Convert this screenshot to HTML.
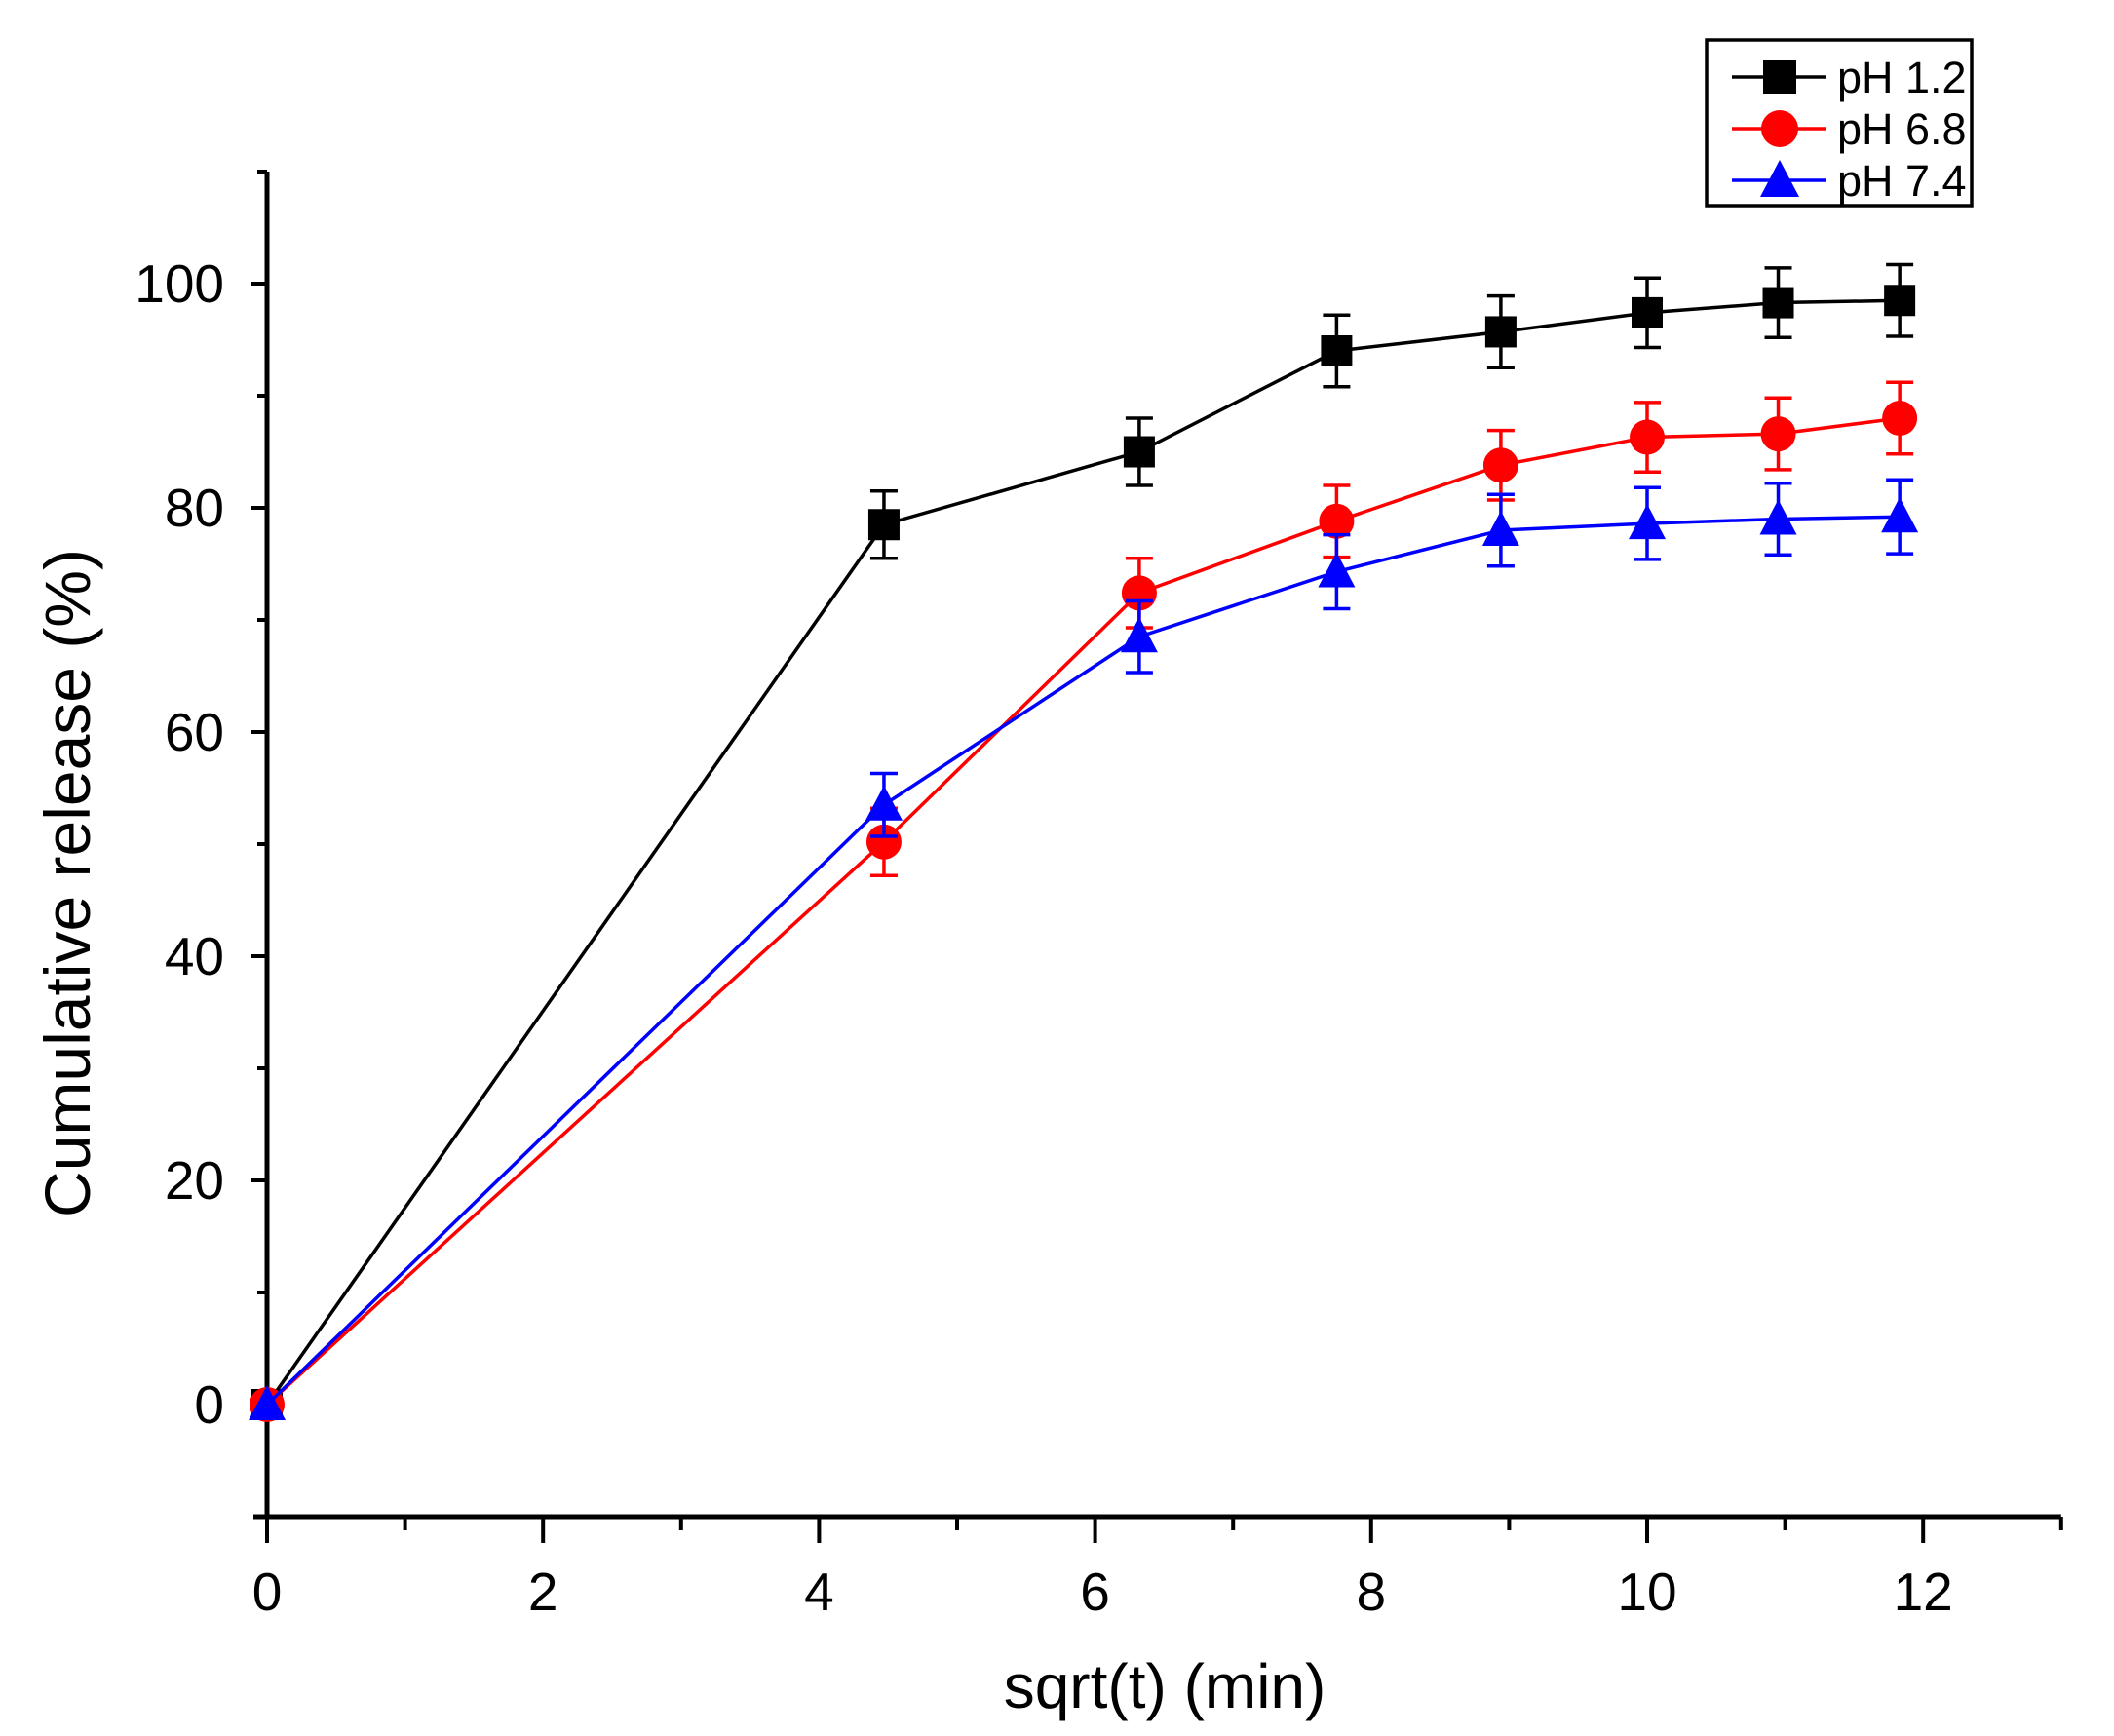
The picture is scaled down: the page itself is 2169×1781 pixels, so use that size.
<!DOCTYPE html>
<html><head><meta charset="utf-8"><style>
html,body{margin:0;padding:0;background:#fff;}
svg{display:block;font-family:"Liberation Sans",Arial,sans-serif;}
</style></head><body>
<svg id="chart" width="2169" height="1781" viewBox="0 0 2169 1781" xmlns="http://www.w3.org/2000/svg"></svg>
<script>
const xValues = [0, 4.47, 6.32, 7.75, 8.94, 10, 10.95, 11.83];
const seriesNames = ["pH 1.2", "pH 6.8", "pH 7.4"];
const ph12 = [0, 78.5, 85.0, 94.0, 95.7, 97.4, 98.3, 98.5];
const ph68 = [0, 50.2, 72.4, 78.8, 83.8, 86.3, 86.6, 88.0];
const ph74 = [0, 53.5, 68.5, 74.3, 78.0, 78.6, 79.0, 79.2];
const err12 = [0, 3.0, 3.0, 3.2, 3.2, 3.1, 3.1, 3.2];
const err68 = [0, 3.0, 3.1, 3.2, 3.1, 3.1, 3.2, 3.2];
const err74 = [0, 2.8, 3.2, 3.3, 3.2, 3.2, 3.2, 3.3];
const xTicks = [0, 2, 4, 6, 8, 10, 12];
const yTicks = [0, 20, 40, 60, 80, 100];

const NS = "http://www.w3.org/2000/svg";
const svg = document.getElementById("chart");
const X0 = 274, XPU = 141.6;
const Y0 = 1441, YPU = 11.50;
const sx = v => X0 + v * XPU;
const sy = v => Y0 - v * YPU;
function mk(tag, attrs, parent) {
  const e = document.createElementNS(NS, tag);
  for (const k in attrs) e.setAttribute(k, attrs[k]);
  (parent || svg).appendChild(e);
  return e;
}
const axes = mk("g", {});


const yAxisTop = sy(110), yAxisBot = sy(-10), xAxisRight = sx(13);
const ya = mk("line", {x1: X0, y1: yAxisTop, x2: X0, y2: yAxisBot + 2, stroke: "#000", "stroke-width": 5}, axes);


const xa = mk("line", {x1: X0 - 14, y1: yAxisBot, x2: xAxisRight, y2: yAxisBot, stroke: "#000", "stroke-width": 5}, axes);


for (let v = -10; v <= 110; v += 10) {
  const major = v % 20 === 0;
  mk("line", {x1: X0 - (major ? 16 : 10), y1: sy(v), x2: X0, y2: sy(v), stroke: "#000", "stroke-width": 4}, axes);
}
yTicks.forEach(v => {
  const t = mk("text", {x: 230, y: sy(v) + 19, "text-anchor": "end", "font-size": 55}, axes);
  t.textContent = v;
  
  
});
for (let v = 0; v <= 13; v += 1) {
  const major = v % 2 === 0;
  mk("line", {x1: sx(v), y1: yAxisBot, x2: sx(v), y2: yAxisBot + (major ? 27 : 14), stroke: "#000", "stroke-width": 4}, axes);
}
xTicks.forEach(v => {
  const t = mk("text", {x: sx(v), y: 1652, "text-anchor": "middle", "font-size": 55}, axes);
  t.textContent = v;
  
  
});
const xt = mk("text", {x: 1195, y: 1752, "text-anchor": "middle", "font-size": 64}, axes);
xt.textContent = "sqrt(t) (min)";


const yt = mk("text", {x: 0, y: 0, "text-anchor": "middle", "font-size": 66, transform: "translate(92,906) rotate(-90)"}, axes);
yt.textContent = "Cumulative release (%)";



function marker(g, type, cx, cy, color, s) {
  if (type === "square") return mk("rect", {x: cx - s, y: cy - s, width: 2 * s, height: 2 * s, fill: color}, g);
  if (type === "circle") return mk("circle", {cx: cx, cy: cy, r: s + 2, fill: color}, g);
  return mk("polygon", {points: `${cx},${cy - s - 4} ${cx - s - 3},${cy + s} ${cx + s + 3},${cy + s}`, fill: color}, g);
}
const series = [
  {vals: ph12, errs: err12, color: "#000", type: "square", name: "series-ph-1-2"},
  {vals: ph68, errs: err68, color: "#ff0000", type: "circle", name: "series-ph-6-8"},
  {vals: ph74, errs: err74, color: "#0000ff", type: "triangle", name: "series-ph-7-4"}
];
series.forEach(s => {
  const g = mk("g", {});
  
  
  const pts = xValues.map((x, i) => `${sx(x)},${sy(s.vals[i])}`).join(" ");
  mk("polyline", {points: pts, fill: "none", stroke: s.color, "stroke-width": 3.5}, g);
  xValues.forEach((x, i) => {
    if (s.errs[i] > 0) {
      const cx = sx(x), t = sy(s.vals[i] + s.errs[i]), b = sy(s.vals[i] - s.errs[i]);
      mk("line", {x1: cx, y1: t, x2: cx, y2: b, stroke: s.color, "stroke-width": 3.5}, g);
      mk("line", {x1: cx - 14, y1: t, x2: cx + 14, y2: t, stroke: s.color, "stroke-width": 3.5}, g);
      mk("line", {x1: cx - 14, y1: b, x2: cx + 14, y2: b, stroke: s.color, "stroke-width": 3.5}, g);
    }
  });
  xValues.forEach((x, i) => {
    const m = marker(g, s.type, sx(x), sy(s.vals[i]), s.color, 16);
    
    
  });
});
const lg = mk("g", {});


mk("rect", {x: 1751, y: 41, width: 272, height: 170, fill: "#fff", stroke: "#000", "stroke-width": 3.5}, lg);
series.forEach((s, i) => {
  const y = 79 + i * 53;
  const e = mk("g", {}, lg);
  
  
  mk("line", {x1: 1777, y1: y, x2: 1874, y2: y, stroke: s.color, "stroke-width": 3.5}, e);
  marker(e, s.type, 1826, y, s.color, 17);
  const t = mk("text", {x: 1885, y: y + 16, "font-size": 45}, e);
  t.textContent = seriesNames[i];
});
</script>
</body></html>
